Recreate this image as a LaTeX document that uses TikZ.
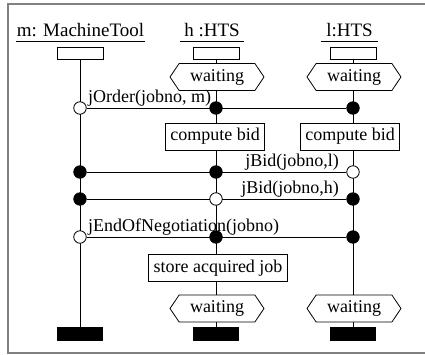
\documentclass[tikz,border=0pt]{standalone}
\usepackage{fontspec}
\setmainfont{Liberation Serif}
\usetikzlibrary{positioning, shapes.symbols, backgrounds}
\tikzset{>=latex}
\tikzset{
  objname/.style={font=\fontsize{19}{22}\selectfont, inner xsep=0pt, inner ysep=0pt, text depth=0pt, anchor=base},
  headbox/.style={draw, fill=white, minimum width=46pt, minimum height=12pt, inner sep=0pt},
  endbar/.style={fill=black, minimum width=46pt, minimum height=14pt, inner sep=0pt},
  waitbox/.style={draw, fill=white, shape=signal, signal to=west and east, signal pointer angle=112,
    minimum width=94pt, minimum height=27pt, inner sep=0pt, font=\fontsize{18}{20}\selectfont},
  actbox/.style={draw, fill=white, minimum height=27pt, inner xsep=5pt, inner ysep=0pt, font=\fontsize{18}{20}\selectfont},
  snd/.style={circle, draw, fill=white, minimum size=12.5pt, inner sep=0pt},
  rcv/.style={snd, fill=black},
  msglbl/.style={font=\fontsize{18}{20}\selectfont, inner sep=1pt},
}

\begin{document}
\begin{tikzpicture}[x=1pt, y=-1pt, line width=0.8pt]
\useasboundingbox (0,0) rectangle (425,355);
\draw[gray, line width=1.6pt] (426,4) -- (8,4) -- (8,353) -- (426,353);

% objects
\node[objname, minimum width=127pt] (tm) at (80.5,37) {m: MachineTool};
\node[objname, minimum width=64pt] (th) at (212,37) {h :HTS};
\node[objname, minimum width=57pt] (tl) at (349.5,37) {l:HTS};
\foreach \t in {tm, th, tl}
  \draw ([yshift=-4pt]\t.south west) -- ([yshift=-4pt]\t.south east);

\node[headbox] (hm) at (80,53) {};
\node[headbox] (hh) at (216,53) {};
\node[headbox] (hl) at (353,53) {};

\node[waitbox] (wh1) at (217,77) {waiting};
\node[waitbox] (wl1) at (354,77) {waiting};

% jOrder
\node[snd] (om) at (80,108) {};
\node[rcv] (oh) at (216,108) {};
\node[rcv] (ol) at (353,108) {};

\node[actbox] (ch) at (215,136.5) {compute bid};
\node[actbox] (cl) at (350,136.5) {compute bid};

% jBid
\node[rcv] (blm) at (80,172) {};
\node[rcv] (blh) at (216,172) {};
\node[snd] (bll) at (353,172) {};
\node[rcv] (bhm) at (80,199) {};
\node[snd] (bhh) at (216,199) {};
\node[rcv] (bhl) at (353,199) {};

% jEndOfNegotiation
\node[snd] (em) at (80,237) {};
\node[rcv] (eh) at (216,237) {};
\node[rcv] (el) at (353,237) {};

\node[actbox] (sh) at (218,268) {store acquired job};
\node[waitbox] (wh2) at (217,308.5) {waiting};
\node[waitbox] (wl2) at (354,308.5) {waiting};

\node[endbar] (xm) at (80,334) {};
\node[endbar] (xh) at (216,334) {};
\node[endbar] (xl) at (353,334) {};

\node[msglbl, anchor=south west] at (om.east) {jOrder(jobno, m)};
\node[msglbl, anchor=south east, xshift=-6pt] at (bll.west) {jBid(jobno,l)};
\node[msglbl, anchor=south east, xshift=-6pt] at (bhl.west) {jBid(jobno,h)};
\node[msglbl, anchor=south west] at (em.east) {jEndOfNegotiation(jobno)};

\begin{scope}[on background layer]
\draw (hm) -- (xm);
\draw (hh) -- (xh);
\draw (hl) -- (xl);
\draw (om) -- (ol);
\draw (blm) -- (bll);
\draw (bhm) -- (bhl);
\draw (em) -- (el);
\end{scope}
\end{tikzpicture}
\end{document}
